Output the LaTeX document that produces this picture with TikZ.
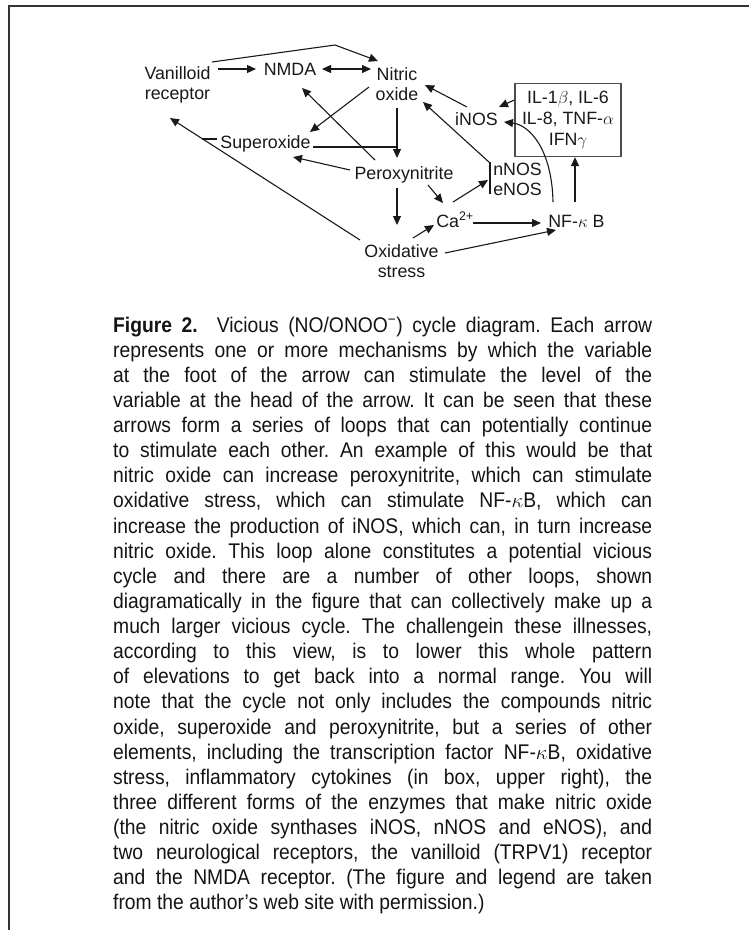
\documentclass[tikz,border=0pt]{standalone}
\usepackage{fontspec}
\setmainfont{Liberation Sans}
\newfontfamily\capfont[FakeStretch=0.91]{Liberation Sans}
\usetikzlibrary{arrows.meta,calc}
\newcommand{\twoline}[3][c]{\begin{tabular}[t]{@{}#1@{}}#2\\#3\end{tabular}}
\newcommand{\capline}[1]{\makebox[539pt][s]{#1}}
\tikzset{
  lbl/.style={inner sep=0pt, anchor=base, text=black!90,
              font=\fontsize{17.8}{20.5}\selectfont},
  arr/.style={line width=1.1pt, draw=black!90,
              -{Triangle[length=9pt,width=8pt]}},
  dbl/.style={line width=1.1pt, draw=black!90,
              {Triangle[length=9pt,width=8pt]}-{Triangle[length=9pt,width=8pt]}},
  ln/.style={line width=1.1pt, draw=black!90},
}
\begin{document}
\frenchspacing
\begin{tikzpicture}[x=1pt,y=-1pt]
\useasboundingbox (0,0) rectangle (749,930);
\fill[white] (0,0) rectangle (749,930);

% frame
\draw[line width=2pt, black!80] (749,6) -- (9,6) -- (9,930);

% nodes
\node[lbl] (van)  at (177.5,79) {\twoline{Vanilloid}{receptor}};
\node[lbl] (nmda) at (290,75)   {NMDA};
\node[lbl] (no)   at (397,80)   {\twoline{Nitric}{oxide}};
\node[lbl] (sup)  at (265.5,148) {Superoxide};
\node[lbl] (per)  at (404,179)  {Peroxynitrite};
\node[lbl] (ox)   at (401.5,257) {\twoline{Oxidative}{stress}};
\node[lbl] (ca)   at (455,227)  {Ca\textsuperscript{2+}};
\node[lbl] (nfkb) at (576.5,227) {NF-$\kappa$ B};
\node[lbl] (inos) at (476.5,125) {iNOS};
\node[lbl] (nnos) at (517.5,175) {\twoline[l]{nNOS}{eNOS}};
\node[inner sep=0pt, draw=black!70, line width=1.3pt, minimum width=106pt,
      minimum height=73pt, text=black!90,
      font=\fontsize{17.8}{21}\selectfont] (cyt) at (568,120)
  {\begin{tabular}{@{}c@{}}IL-1$\beta$, IL-6\\IL-8, TNF-$\alpha$\\IFN$\gamma$\end{tabular}};

% connectors
\draw[arr] ([shift={(40.5,-10)}]van.base) -- ([shift={(-34,-6)}]nmda.base);
\draw[dbl] ([shift={(32,-6)}]nmda.base) -- ([shift={(-26,-11)}]no.base);
\draw[arr] ([shift={(34.5,-17)}]van.base) -- (335,45) -- ([shift={(-19,-19)}]no.base);
\draw[arr] ([shift={(-28,7)}]no.base) -- ([shift={(44.5,-16)}]sup.base);
\draw[arr] ([shift={(-29,-19)}]per.base) -- ([shift={(12,13)}]nmda.base);
\draw[arr] ([shift={(0,28)}]no.base) -- ([shift={(-7,-21)}]per.base);
\draw[ln]  ([shift={(47.5,-1)}]sup.base) -- ([shift={(0,67)}]no.base);
\draw[arr] ([shift={(-54,-9)}]per.base) -- ([shift={(27.5,9)}]sup.base);
\draw[arr] ([shift={(-7,9)}]per.base) -- ([shift={(-4.5,-32)}]ox.base);
\draw[arr] ([shift={(24,6)}]per.base) -- ([shift={(-12,-24)}]ca.base);
\draw[arr] ([shift={(-2,-25)}]ca.base) -- ([shift={(-29.5,5)}]nnos.base);
\draw[ln]  ([shift={(-27.5,-13)}]nnos.base) -- ([shift={(-27.5,19)}]nnos.base);
\draw[arr] ([shift={(-27.5,-12)}]nnos.base) -- ([shift={(26,22)}]no.base);
\draw[arr] ([shift={(-9.5,-18)}]inos.base) -- ([shift={(28,5)}]no.base);
\draw[arr] ([yshift=20pt]cyt.west) -- ([shift={(22.5,-18)}]inos.base);
\draw[arr] ([shift={(-23.5,-25)}]nfkb.base) .. controls (552,150) and (530,125) .. ([shift={(27.5,-3)}]inos.base);
\draw[arr] ([shift={(-1.5,-25)}]nfkb.base) -- ([xshift=7pt]cyt.south);
\draw[arr] ([shift={(18,-4)}]ca.base) -- ([shift={(-35.5,-4)}]nfkb.base);
\draw[arr] ([shift={(43.5,-4)}]ox.base) -- ([shift={(-20.5,3)}]nfkb.base);
\draw[arr] ([shift={(11.5,-19)}]ox.base) -- ([shift={(-21,-2)}]ca.base);
\draw[arr] ([shift={(-41.5,-17)}]ox.base) -- ([shift={(-7.5,39)}]van.base);
\draw[ln]  ([shift={(-48.5,-9)}]sup.base) -- ([shift={(24.5,60)}]van.base);

% legend
\node[inner sep=0pt, anchor=base west, text=black!92,
      font=\capfont\fontsize{21.2}{25.13}\selectfont] (legend) at (113,332)
{\begin{tabular}[t]{@{}l@{}}
\capline{\textbf{Figure 2.}\ \ Vicious (NO/ONOO\textsuperscript{−}) cycle diagram. Each arrow}\\
\capline{represents one or more mechanisms by which the variable}\\
\capline{at the foot of the arrow can stimulate the level of the}\\
\capline{variable at the head of the arrow. It can be seen that these}\\
\capline{arrows form a series of loops that can potentially continue}\\
\capline{to stimulate each other. An example of this would be that}\\
\capline{nitric oxide can increase peroxynitrite, which can stimulate}\\
\capline{oxidative stress, which can stimulate NF-$\kappa$B, which can}\\
\capline{increase the production of iNOS, which can, in turn increase}\\
\capline{nitric oxide. This loop alone constitutes a potential vicious}\\
\capline{cycle and there are a number of other loops, shown}\\
\capline{diagramatically in the figure that can collectively make up a}\\
\capline{much larger vicious cycle. The challengein these illnesses,}\\
\capline{according to this view, is to lower this whole pattern}\\
\capline{of elevations to get back into a normal range. You will}\\
\capline{note that the cycle not only includes the compounds nitric}\\
\capline{oxide, superoxide and peroxynitrite, but a series of other}\\
\capline{elements, including the transcription factor NF-$\kappa$B, oxidative}\\
\capline{stress, inflammatory cytokines (in box, upper right), the}\\
\capline{three different forms of the enzymes that make nitric oxide}\\
\capline{(the nitric oxide synthases iNOS, nNOS and eNOS), and}\\
\capline{two neurological receptors, the vanilloid (TRPV1) receptor}\\
\capline{and the NMDA receptor. (The figure and legend are taken}\\
from the author’s web site with permission.)
\end{tabular}};
\end{tikzpicture}
\end{document}
